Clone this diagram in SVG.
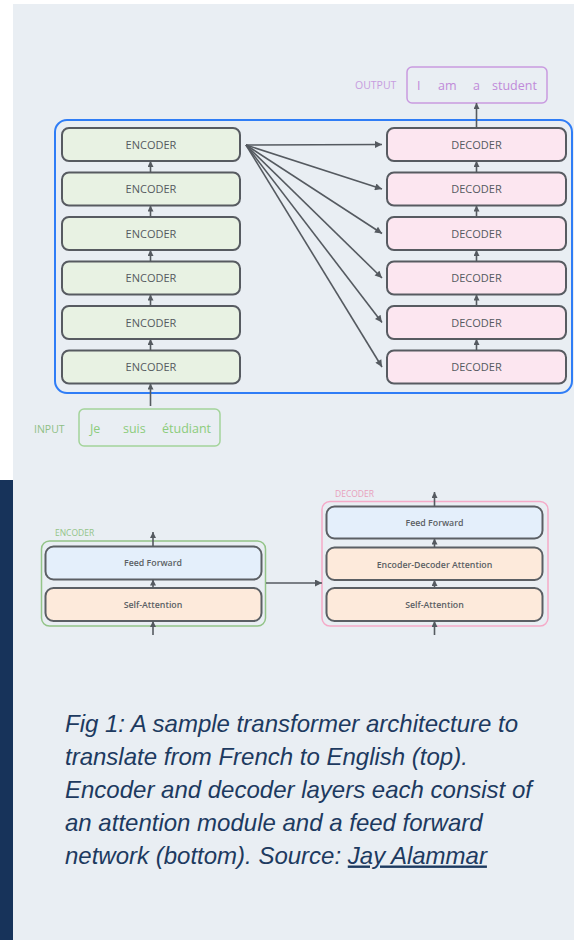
<svg xmlns="http://www.w3.org/2000/svg" width="574" height="940" viewBox="0 0 574 940">
<defs>
<marker id="ah" viewBox="0 0 10 10" refX="10" refY="5" markerWidth="8" markerHeight="7" markerUnits="userSpaceOnUse" orient="auto">
<path d="M0,0 L10,5 L0,10 z" fill="#555a60"/>
</marker>
<marker id="as" viewBox="0 0 10 10" refX="10" refY="5" markerWidth="6" markerHeight="6" markerUnits="userSpaceOnUse" orient="auto">
<path d="M0,0 L10,5 L0,10 z" fill="#555a60"/>
</marker>
<style>
.enc{fill:#e8f2e3;stroke:#575b61;stroke-width:2}
.dec{fill:#fce6f0;stroke:#575b61;stroke-width:2}
.ff{fill:#e4effb;stroke:#5b5f64;stroke-width:2}
.att{fill:#fdeadb;stroke:#5b5f64;stroke-width:2}
.lbl{font-family:"Open Sans","DejaVu Sans",sans-serif;font-size:11px;fill:#555a60;text-anchor:middle}
.sub{font-family:"Open Sans","DejaVu Sans",sans-serif;font-size:8.8px;font-weight:600;fill:#5b5f64;text-anchor:middle}
.con{stroke:#555a60;stroke-width:1.6;fill:none}
.cap{font-family:"Liberation Sans",Arial,sans-serif;font-style:italic;font-size:24px;fill:#1d3a60}
</style>
</defs>
<rect x="0" y="0" width="574" height="940" fill="#ffffff"/>
<rect x="13" y="4" width="561" height="936" fill="#e9eef3"/>
<rect x="0" y="480" width="13" height="460" fill="#17335a"/>

<rect id="stack" x="55" y="120" width="517" height="273" rx="12" fill="none" stroke="#2f7df6" stroke-width="2"/>

<g id="output">
<text x="355" y="89" font-family="Open Sans, sans-serif" font-size="10.5" fill="#c79ddf">OUTPUT</text>
<rect x="407" y="67" width="140" height="36" rx="5" fill="none" stroke="#c99ae0" stroke-width="1.5"/>
<g font-family="Open Sans, sans-serif" font-size="12.5" fill="#c08ad9">
<text x="417" y="90">I</text><text x="438" y="90">am</text><text x="473" y="90">a</text><text x="492" y="90">student</text>
</g>
</g>

<g id="input">
<text x="34" y="433" font-family="Open Sans, sans-serif" font-size="10.5" fill="#8fbf85">INPUT</text>
<rect x="79" y="409" width="141" height="37" rx="5" fill="none" stroke="#a3d49a" stroke-width="1.5"/>
<g font-family="Open Sans, sans-serif" font-size="12.5" fill="#8ccc7c">
<text x="90" y="433">Je</text><text x="123" y="433">suis</text><text x="162" y="433">étudiant</text>
</g>
</g>

<g id="encoder1"><rect class="enc" x="62" y="128" width="178" height="33" rx="7"/><text class="lbl" x="151" y="148.5">ENCODER</text></g>
<g id="encoder2"><rect class="enc" x="62" y="172.5" width="178" height="33" rx="7"/><text class="lbl" x="151" y="193">ENCODER</text></g>
<g id="encoder3"><rect class="enc" x="62" y="217" width="178" height="33" rx="7"/><text class="lbl" x="151" y="237.5">ENCODER</text></g>
<g id="encoder4"><rect class="enc" x="62" y="261.5" width="178" height="33" rx="7"/><text class="lbl" x="151" y="282">ENCODER</text></g>
<g id="encoder5"><rect class="enc" x="62" y="306" width="178" height="33" rx="7"/><text class="lbl" x="151" y="326.5">ENCODER</text></g>
<g id="encoder6"><rect class="enc" x="62" y="350.5" width="178" height="33" rx="7"/><text class="lbl" x="151" y="371">ENCODER</text></g>

<g id="decoder1"><rect class="dec" x="387" y="128" width="179" height="33" rx="7"/><text class="lbl" x="476.5" y="148.5">DECODER</text></g>
<g id="decoder2"><rect class="dec" x="387" y="172.5" width="179" height="33" rx="7"/><text class="lbl" x="476.5" y="193">DECODER</text></g>
<g id="decoder3"><rect class="dec" x="387" y="217" width="179" height="33" rx="7"/><text class="lbl" x="476.5" y="237.5">DECODER</text></g>
<g id="decoder4"><rect class="dec" x="387" y="261.5" width="179" height="33" rx="7"/><text class="lbl" x="476.5" y="282">DECODER</text></g>
<g id="decoder5"><rect class="dec" x="387" y="306" width="179" height="33" rx="7"/><text class="lbl" x="476.5" y="326.5">DECODER</text></g>
<g id="decoder6"><rect class="dec" x="387" y="350.5" width="179" height="33" rx="7"/><text class="lbl" x="476.5" y="371">DECODER</text></g>

<g id="enc-detail">
<text x="55" y="536" font-family="Open Sans, sans-serif" font-size="8.5" fill="#93c488">ENCODER</text>
<rect x="41.5" y="541" width="224" height="85" rx="8" fill="none" stroke="#93c488" stroke-width="1.5"/>
<g id="enc-ff"><rect class="ff" x="45.5" y="546.5" width="216" height="33" rx="8"/><text class="sub" x="153" y="566">Feed Forward</text></g>
<g id="enc-sa"><rect class="att" x="45.5" y="588" width="216" height="33" rx="8"/><text class="sub" x="153" y="608">Self-Attention</text></g>
</g>

<g id="dec-detail">
<text x="335" y="497" font-family="Open Sans, sans-serif" font-size="8.5" fill="#e8a0bb">DECODER</text>
<rect x="322" y="501.5" width="226" height="124.5" rx="8" fill="none" stroke="#f5aac8" stroke-width="1.5"/>
<g id="dec-ff"><rect class="ff" x="326.5" y="506.5" width="216" height="32" rx="8"/><text class="sub" x="434.5" y="526">Feed Forward</text></g>
<g id="dec-eda"><rect class="att" x="326.5" y="547.5" width="216" height="32.5" rx="8"/><text class="sub" x="434.5" y="567.5">Encoder-Decoder Attention</text></g>
<g id="dec-sa"><rect class="att" x="326.5" y="588" width="216" height="33" rx="8"/><text class="sub" x="434.5" y="608">Self-Attention</text></g>
</g>

<g id="connectors" class="con">
<line x1="150.5" y1="406" x2="150.5" y2="383.5" marker-end="url(#as)"/>
<line x1="150.5" y1="350.5" x2="150.5" y2="339" marker-end="url(#as)"/>
<line x1="150.5" y1="306" x2="150.5" y2="294.5" marker-end="url(#as)"/>
<line x1="150.5" y1="261.5" x2="150.5" y2="250" marker-end="url(#as)"/>
<line x1="150.5" y1="217" x2="150.5" y2="205.5" marker-end="url(#as)"/>
<line x1="150.5" y1="172.5" x2="150.5" y2="161" marker-end="url(#as)"/>
<line x1="476.5" y1="350.5" x2="476.5" y2="339" marker-end="url(#as)"/>
<line x1="476.5" y1="306" x2="476.5" y2="294.5" marker-end="url(#as)"/>
<line x1="476.5" y1="261.5" x2="476.5" y2="250" marker-end="url(#as)"/>
<line x1="476.5" y1="217" x2="476.5" y2="205.5" marker-end="url(#as)"/>
<line x1="476.5" y1="172.5" x2="476.5" y2="161" marker-end="url(#as)"/>
<line x1="476.5" y1="128" x2="476.5" y2="103" marker-end="url(#as)"/>
<line x1="246" y1="145" x2="382" y2="144.5" marker-end="url(#ah)"/>
<line x1="246" y1="145" x2="382" y2="189" marker-end="url(#ah)"/>
<line x1="246" y1="145" x2="382" y2="233.5" marker-end="url(#ah)"/>
<line x1="246" y1="145" x2="382" y2="278" marker-end="url(#ah)"/>
<line x1="246" y1="145" x2="382" y2="322.5" marker-end="url(#ah)"/>
<line x1="246" y1="145" x2="382" y2="367" marker-end="url(#ah)"/>
<line x1="153" y1="546.5" x2="153" y2="532" marker-end="url(#as)"/>
<line x1="153" y1="588" x2="153" y2="579.5" marker-end="url(#as)"/>
<line x1="153" y1="635" x2="153" y2="621" marker-end="url(#as)"/>
<line x1="434.5" y1="506.5" x2="434.5" y2="492" marker-end="url(#as)"/>
<line x1="434.5" y1="547.5" x2="434.5" y2="538.5" marker-end="url(#as)"/>
<line x1="434.5" y1="588" x2="434.5" y2="580" marker-end="url(#as)"/>
<line x1="434.5" y1="635" x2="434.5" y2="621" marker-end="url(#as)"/>
<line x1="266" y1="583" x2="322" y2="583" marker-end="url(#ah)"/>
</g>

<g id="caption" class="cap">
<text x="65" y="731.5">Fig 1: A sample transformer architecture to</text>
<text x="65" y="764.5">translate from French to English (top).</text>
<text x="65" y="797.5">Encoder and decoder layers each consist of</text>
<text x="65" y="830.5">an attention module and a feed forward</text>
<text x="65" y="863.5">network (bottom). Source: <tspan text-decoration="underline">Jay Alammar</tspan></text>
</g>
</svg>
